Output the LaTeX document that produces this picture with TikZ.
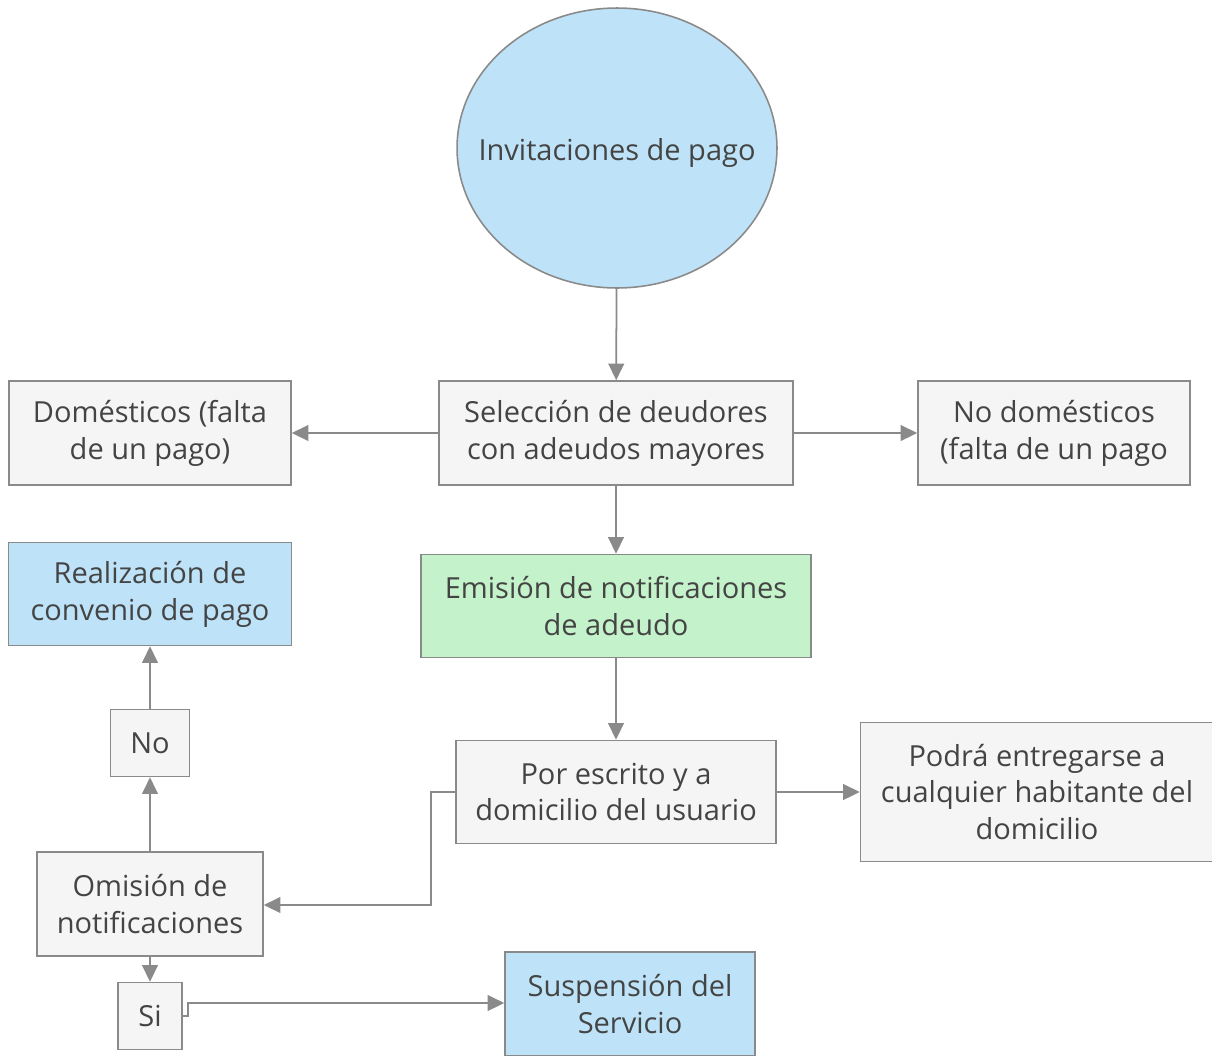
\documentclass[tikz,border=0pt]{standalone}
\usepackage{fontspec}
\setmainfont{Open Sans}
\usepackage{xcolor}
\usetikzlibrary{arrows.meta,shapes.geometric}

\definecolor{boxgray}{HTML}{F5F5F5}
\definecolor{linegray}{HTML}{8A8A8A}
\definecolor{txtgray}{HTML}{444444}
\definecolor{skyblue}{HTML}{BEE3F8}
\definecolor{mintgreen}{HTML}{C4F2CA}

\begin{document}
\begin{tikzpicture}[x=0.02cm,y=-0.02cm]
\tikzset{every node/.style={text=txtgray,align=center,inner sep=0pt}}
\tikzset{box/.style={draw=linegray,fill=boxgray,line width=0.9pt}}
\tikzset{flow/.style={draw=linegray,line width=1pt,-{Triangle[length=9.5pt,width=9pt]}}}

\fontsize{16.5}{21}\selectfont

\useasboundingbox (0,0) rectangle (1212,1055);

\node[ellipse,draw=linegray,fill=skyblue,line width=0.9pt,minimum width=6.4cm,minimum height=5.6cm,
  label={[yshift=-3pt]center:Invitaciones de pago}] (invit) at (617,148) {};
\node[box,minimum width=7.08cm,minimum height=2.08cm] (selec) at (616,433) {Selección de deudores\\con adeudos mayores};
\node[box,minimum width=5.64cm,minimum height=2.08cm] (dom) at (150,433) {Domésticos (falta\\de un pago)};
\node[box,minimum width=5.44cm,minimum height=2.08cm] (nodom) at (1054,433) {No domésticos\\(falta de un pago};
\node[box,fill=mintgreen,minimum width=7.8cm,minimum height=2.06cm] (emis) at (616,606) {Emisión de notificaciones\\de adeudo};
\node[box,fill=skyblue,minimum width=5.66cm,minimum height=2.06cm] (realiz) at (150,594) {Realización de\\convenio de pago};
\node[box,minimum width=1.58cm,minimum height=1.34cm] (no) at (150,743) {No};
\node[box,minimum width=6.4cm,minimum height=2.06cm] (escrito) at (616,792) {Por escrito y a\\domicilio del usuario};
\node[box,minimum width=7.06cm,minimum height=2.78cm] (podra) at (1037,792) {Podrá entregarse a\\cualquier habitante del\\domicilio};
\node[box,minimum width=4.52cm,minimum height=2.08cm] (omis) at (150,904) {Omisión de\\notificaciones};
\node[box,minimum width=1.28cm,minimum height=1.34cm] (si) at (150,1016) {Si};
\node[box,fill=skyblue,minimum width=5.0cm,minimum height=2.08cm] (susp) at (630,1004) {Suspensión del\\Servicio};

\coordinate (bendA) at (431,792);
\coordinate (bendB) at (431,905);
\coordinate (stepA) at (188,1016);
\coordinate (stepB) at (188,1003);

\draw[flow] (invit) -- (selec);
\draw[flow] (selec) -- (dom);
\draw[flow] (selec) -- (nodom);
\draw[flow] (selec) -- (emis);
\draw[flow] (emis) -- (escrito);
\draw[flow] (escrito) -- (podra);
\draw[flow] (escrito.west) -- (bendA) -- (bendB) -- (omis.east |- bendB);
\draw[flow] (omis) -- (no);
\draw[flow] (no) -- (realiz);
\draw[flow] (omis) -- (si);
\draw[flow] (si.east) -- (stepA) -- (stepB) -- (susp.west |- stepB);

\end{tikzpicture}
\end{document}
